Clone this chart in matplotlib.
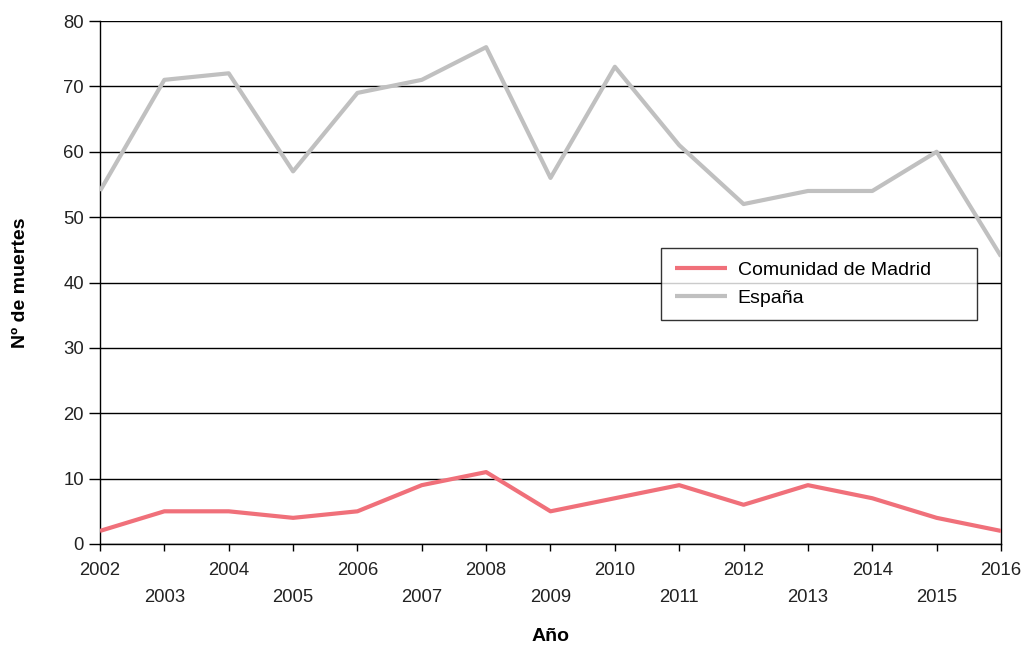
import matplotlib
matplotlib.use("Agg")
import matplotlib.pyplot as plt

years = list(range(2002, 2017))
madrid = [2, 5, 5, 4, 5, 9, 11, 5, 7, 9, 6, 9, 7, 4, 2]
espana = [54, 71, 72, 57, 69, 71, 76, 56, 73, 61, 52, 54, 54, 60, 44]
yticks = [0, 10, 20, 30, 40, 50, 60, 70, 80]

plt.rcParams['font.family'] = ['Liberation Sans', 'DejaVu Sans']

fig = plt.figure(figsize=(10.25, 6.47), dpi=100)
ax = fig.add_axes([100/1025, 1-544/647, 901/1025, 523/647])

ax.plot(years, madrid, color='#f0707a', lw=3, label='Comunidad de Madrid', solid_capstyle='butt', zorder=3)
ax.plot(years, espana, color='#c0c0c0', lw=3, label='España', solid_capstyle='butt', zorder=3)

ax.set_xlim(2002, 2016)
ax.set_ylim(0, 80)
ax.set_yticks(yticks)
ax.set_yticklabels([str(v) for v in yticks], fontsize=13.3, color='#222222')
for v in yticks:
    ax.axhline(v, color='black', lw=1, zorder=1)

ax.set_xticks(years)
labels = [str(y) if i % 2 == 0 else '\n' + str(y) for i, y in enumerate(years)]
ax.set_xticklabels(labels, fontsize=13.3, color='#222222', linespacing=1.75)

ax.spines['top'].set_visible(False)
for s in ['left', 'bottom', 'right']:
    ax.spines[s].set_color('black')
    ax.spines[s].set_linewidth(1)
ax.tick_params(axis='y', length=8, width=1, color='black', pad=3.5)
ax.tick_params(axis='x', length=5, width=1, color='black', pad=8)

ax.set_ylabel('Nº de muertes', fontsize=14, fontweight='bold', labelpad=25)
ax.set_xlabel('Año', fontsize=14, fontweight='bold', labelpad=16)

leg = ax.legend(loc='upper left',
                bbox_to_anchor=((661-100)/901, (544-248)/523, (977-661)/901, 0.0),
                mode='expand',
                fontsize=14, frameon=True, fancybox=False, edgecolor='black',
                handlelength=2.7, borderpad=0.7, labelspacing=0.5, handletextpad=0.55,
                borderaxespad=0)
leg.get_frame().set_linewidth(1)

fig.savefig('out.png', dpi=100)
